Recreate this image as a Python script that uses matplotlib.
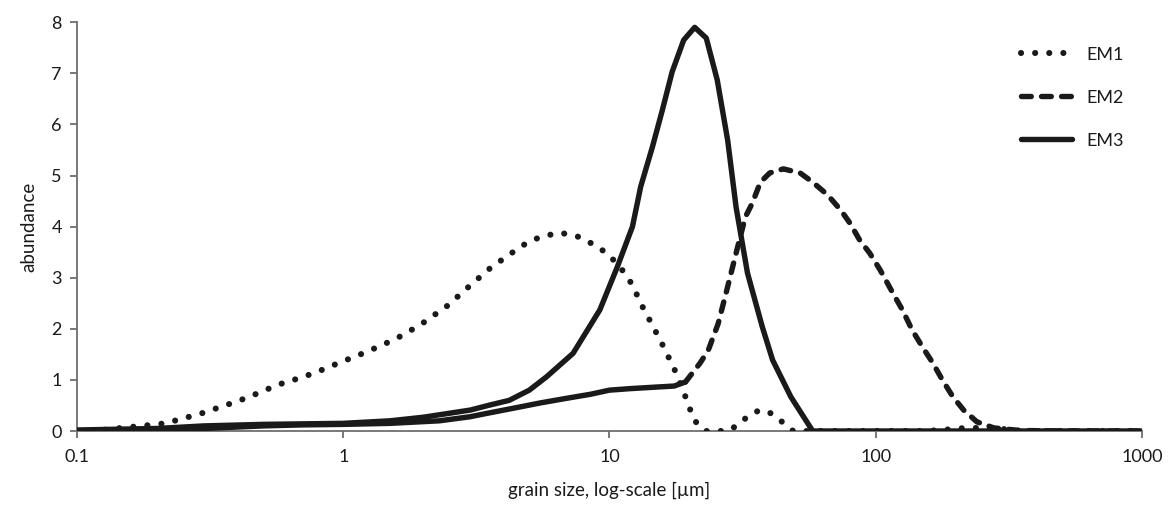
import matplotlib
matplotlib.use("Agg")
import matplotlib.pyplot as plt
from matplotlib.ticker import FixedLocator, FixedFormatter, NullLocator

# end-member grain-size distributions
em1_size = [0.1, 0.12, 0.135, 0.16, 0.19, 0.214, 0.26, 0.3, 0.345, 0.4, 0.458, 0.52,
            0.595, 0.7, 0.8, 0.95, 1.16, 1.4, 1.68, 2.0, 2.46, 3.0, 3.57, 4.2, 4.75,
            5.5, 6.5, 7.5, 8.5, 9.8, 11, 12.2, 13.1, 14.5, 16, 17.6, 19.3, 20.8, 23,
            25, 27.7, 30, 33, 36.6, 40, 44, 49, 53, 60, 100, 150, 180, 200, 230, 260,
            300, 350, 500, 1000]
em1_val = [0.0, 0.01, 0.04, 0.08, 0.12, 0.15, 0.27, 0.36, 0.47, 0.58, 0.70, 0.82,
           0.94, 1.05, 1.16, 1.32, 1.50, 1.68, 1.88, 2.12, 2.45, 2.85, 3.19, 3.45, 3.64,
           3.80, 3.88, 3.82, 3.68, 3.48, 3.20, 2.86, 2.50, 2.07, 1.64, 1.19, 0.67, 0.21, 0.0,
           0.0, 0.0, 0.10, 0.28, 0.41, 0.36, 0.20, 0.0, 0.0, 0.0, 0.0, 0.0, 0.02, 0.05, 0.06, 0.06,
           0.04, 0.0, 0.0, 0.0]

em2_size = [0.1, 0.2, 0.3, 0.5, 0.7, 1, 1.5, 2.3, 3.0, 3.5, 4.6, 5.5, 6.9, 8.5, 10,
            12, 15, 17.5, 19.3, 21.9, 23.5, 25.6, 27.6, 30.3, 32.4, 34.4, 36.9, 40, 45,
            52, 58, 66, 74, 80, 87, 95, 104, 116, 126, 137, 150, 164, 178, 195, 214,
            240, 278, 350, 500, 1000]
em2_val = [0.0, 0.02, 0.05, 0.10, 0.12, 0.13, 0.15, 0.20, 0.28, 0.35, 0.47, 0.55, 0.64,
           0.72, 0.80, 0.83, 0.86, 0.88, 0.96, 1.33, 1.58, 2.10, 2.76, 3.60, 4.19, 4.46,
           4.87, 5.05, 5.13, 5.05, 4.87, 4.62, 4.32, 4.07, 3.74, 3.48, 3.15, 2.70, 2.37,
           1.98, 1.64, 1.33, 1.00, 0.67, 0.41, 0.18, 0.06, 0.01, 0.0, 0.0]
em2_solid_end = 19  # below ~20 um the EM2 line is drawn solid in the original

em3_size = [0.1, 0.2, 0.3, 0.5, 0.7, 1, 1.5, 2, 3, 3.5, 4.2, 5, 5.8, 7.3, 9.2, 10.7,
            12.2, 13.1, 14.5, 15.8, 17.2, 19.0, 20.9, 23.1, 25.4, 27.8, 29.9, 33, 37.5,
            41, 48, 58, 100, 1000]
em3_val = [0.02, 0.05, 0.10, 0.13, 0.14, 0.15, 0.20, 0.27, 0.41, 0.50, 0.60, 0.80, 1.06,
           1.52, 2.37, 3.21, 4.00, 4.78, 5.56, 6.28, 7.03, 7.65, 7.90, 7.69, 6.87, 5.69,
           4.38, 3.09, 2.04, 1.39, 0.67, 0.0, 0.0, 0.0]

x_ticks = [0.1, 1, 10, 100, 1000]
x_labels = ["0.1", "1", "10", "100", "1000"]
y_ticks = [0, 1, 2, 3, 4, 5, 6, 7, 8]

plt.rcParams['font.family'] = ['Lato', 'DejaVu Sans']
ink = "#1a1a1a"

fig = plt.figure(figsize=(11.76, 5.05), dpi=100)
ax = fig.add_axes([0.0655, 0.1465, 0.9055, 0.8095])

lw = 3.9
ax.plot(em1_size, em1_val, color=ink, lw=4.4, linestyle=(0, (0.01, 2.3)),
        dash_capstyle='round', solid_capstyle='round', label='EM1', zorder=3)
ax.plot(em2_size[em2_solid_end - 1:], em2_val[em2_solid_end - 1:], color=ink, lw=lw,
        linestyle=(0, (1.8, 1.9)), dash_capstyle='round', label='EM2', zorder=3)
ax.plot(em2_size[:em2_solid_end], em2_val[:em2_solid_end], color=ink, lw=lw,
        solid_capstyle='round', zorder=3)
ax.plot(em3_size, em3_val, color=ink, lw=lw, solid_capstyle='round',
        solid_joinstyle='round', label='EM3', zorder=3)

ax.set_xscale('log')
ax.set_xlim(0.1, 1000)
ax.set_ylim(0, 8)
ax.xaxis.set_major_locator(FixedLocator(x_ticks))
ax.xaxis.set_major_formatter(FixedFormatter(x_labels))
ax.xaxis.set_minor_locator(NullLocator())
ax.set_yticks(y_ticks)

for side in ['top', 'right']:
    ax.spines[side].set_visible(False)
for side in ['left', 'bottom']:
    ax.spines[side].set_color('#6e6e6e')
    ax.spines[side].set_linewidth(1.3)
ax.tick_params(axis='both', colors='#6e6e6e', labelcolor=ink, labelsize=13,
               length=5, width=1.3, direction='out')
ax.tick_params(axis='x', pad=8)
ax.tick_params(axis='y', pad=6)

ax.set_xlabel('grain size, log-scale [µm]', fontsize=13.5, color=ink, labelpad=12)
ax.set_ylabel('abundance', fontsize=13.5, color=ink, labelpad=10)

leg = ax.legend(loc='upper right', bbox_to_anchor=(0.998, 0.98), frameon=False,
                fontsize=13, handlelength=2.8, handletextpad=0.8, labelspacing=1.5)
for t in leg.get_texts():
    t.set_color(ink)

fig.savefig('out.png', dpi=100)
